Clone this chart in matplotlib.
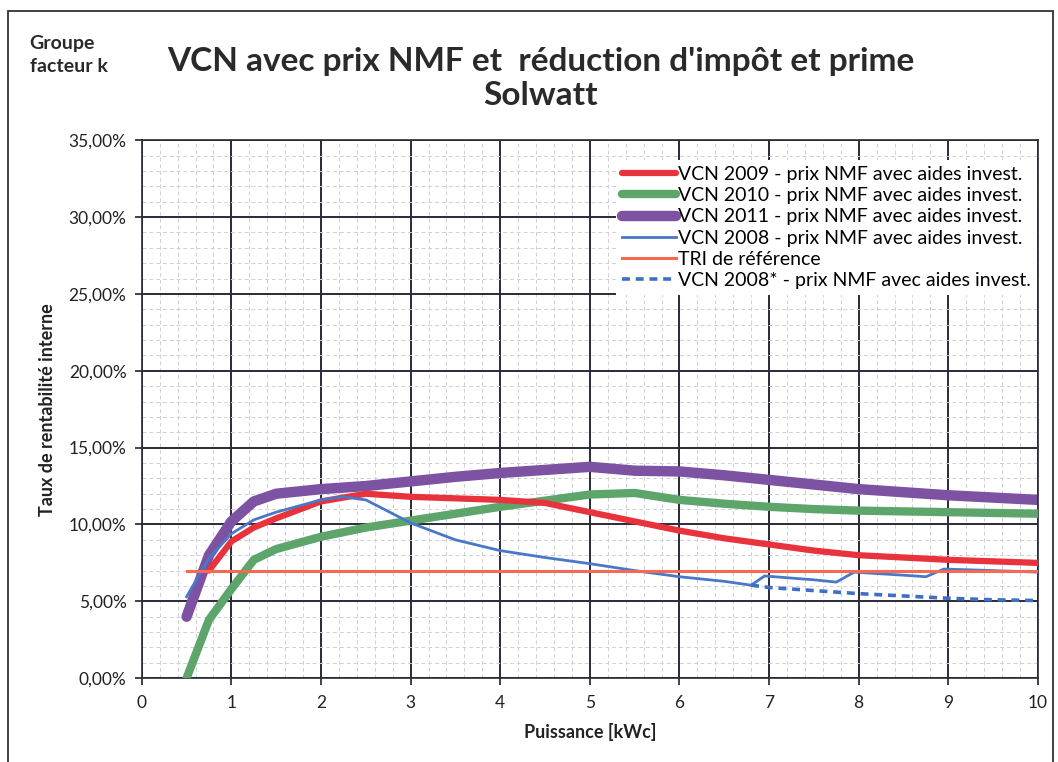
import matplotlib.pyplot as plt
import matplotlib.patches as patches
from matplotlib.ticker import FuncFormatter, MultipleLocator

plt.rcParams['font.family'] = ['Lato', 'DejaVu Sans']

# puissance (kWc) commune aux séries principales
x_main = [0.5, 0.75, 1, 1.25, 1.5, 2, 2.5, 3, 3.5, 4, 4.5, 5, 5.5, 6, 6.5, 7, 7.5, 8, 8.5, 9, 9.5, 10]

vcn_2011 = [4.0, 8.0, 10.2, 11.5, 12.0, 12.3, 12.5, 12.8, 13.1, 13.35, 13.55, 13.75, 13.5, 13.45, 13.2,
            12.9, 12.6, 12.3, 12.1, 11.9, 11.75, 11.6]
vcn_2010 = [0.0, 3.8, 5.8, 7.7, 8.4, 9.2, 9.8, 10.25, 10.7, 11.15, 11.55, 11.95, 12.05, 11.6, 11.35,
            11.15, 11.0, 10.9, 10.85, 10.8, 10.75, 10.7]

x_2009 = x_main[1:]
vcn_2009 = [7.0, 8.9, 9.8, 10.4, 11.5, 12.0, 11.8, 11.7, 11.6, 11.4, 10.8, 10.2, 9.6, 9.1, 8.7,
            8.3, 8.0, 7.85, 7.7, 7.6, 7.5]

x_2008 = [0.5, 0.75, 1, 1.25, 1.5, 2, 2.25, 2.5, 3, 3.5, 4, 4.5, 5, 5.5, 6, 6.5, 6.8, 6.95,
          7.5, 7.75, 7.95, 8.5, 8.75, 8.95, 9.5, 10]
vcn_2008 = [5.3, 7.8, 9.4, 10.3, 10.8, 11.6, 11.8, 11.6, 10.1, 9.0, 8.3, 7.85, 7.45, 7.0, 6.6, 6.3,
            6.05, 6.65, 6.4, 6.25, 6.9, 6.7, 6.6, 7.1, 7.0, 6.9]

x_2008s = [6.8, 7, 7.5, 8, 8.5, 9, 9.5, 10]
vcn_2008s = [6.05, 5.9, 5.7, 5.5, 5.35, 5.2, 5.1, 5.05]

x_ref = [0.5, 10]
tri_ref = [7.0, 7.0]

fig = plt.figure(figsize=(10.58, 7.62), dpi=100)
ax = fig.add_axes([0.134, 0.110, 0.847, 0.706])

# grille: majeure foncée, mineure pointillée claire
ax.xaxis.set_major_locator(MultipleLocator(1))
ax.xaxis.set_minor_locator(MultipleLocator(0.2))
ax.yaxis.set_major_locator(MultipleLocator(5))
ax.yaxis.set_minor_locator(MultipleLocator(1))
ax.grid(which='major', color='#2a2a3a', linewidth=1.4)
ax.grid(which='minor', color='#cfcfd4', linewidth=0.7, linestyle=(0, (4, 3)))
ax.set_axisbelow(True)

ax.plot(x_2009, vcn_2009, color='#e8323c', lw=4.5, solid_capstyle='round',
        label='VCN 2009 - prix NMF avec aides invest.', zorder=4)
ax.plot(x_main, vcn_2010, color='#5ea56c', lw=6, solid_capstyle='round',
        label='VCN 2010 - prix NMF avec aides invest.', zorder=3)
ax.plot(x_main, vcn_2011, color='#7d52a3', lw=7.5, solid_capstyle='round',
        label='VCN 2011 - prix NMF avec aides invest.', zorder=2)
ax.plot(x_2008, vcn_2008, color='#4a78c8', lw=2,
        label='VCN 2008 - prix NMF avec aides invest.', zorder=5)
ax.plot(x_ref, tri_ref, color='#f46a55', lw=2.2,
        label='TRI de référence', zorder=6)
ax.plot(x_2008s, vcn_2008s, color='#3f6fc4', lw=2.6, linestyle=(0, (2.2, 1.6)),
        label='VCN 2008* - prix NMF avec aides invest.', zorder=5)

ax.set_xlim(0, 10)
ax.set_ylim(0, 35)
ax.yaxis.set_major_formatter(FuncFormatter(lambda v, p: f'{v:.2f}%'.replace('.', ',')))

for s in ax.spines.values():
    s.set_color('#2a2a3a')
    s.set_linewidth(1.2)
ax.tick_params(which='major', labelsize=12.5, colors='#222222', length=5, width=1.2, pad=6)
ax.tick_params(axis='x', which='major', pad=7)
ax.tick_params(which='minor', length=0)

ax.set_xlabel('Puissance [kWc]', fontsize=13, fontweight='bold', labelpad=9, color='#222222')
ax.set_ylabel('Taux de rentabilité interne', fontsize=13, fontweight='bold', labelpad=9, color='#222222')

leg = ax.legend(loc='upper right', bbox_to_anchor=(1.0, 0.965), fontsize=14,
                frameon=True, framealpha=1, edgecolor='none', fancybox=False,
                handlelength=2.8, handletextpad=0.1, labelspacing=0.22,
                borderpad=0.3, borderaxespad=0.05)
leg.get_frame().set_facecolor('white')
leg.set_zorder(10)

fig.text(0.511, 0.897, "VCN avec prix NMF et  réduction d'impôt et prime\nSolwatt",
         ha='center', va='center', fontsize=24, fontweight='bold', color='#2a2a2a',
         linespacing=1.17)
fig.text(0.028, 0.928, 'Groupe\nfacteur k', ha='left', va='center', fontsize=14,
         fontweight='bold', color='#2a2a2a', linespacing=1.45)

fig.patches.append(patches.Rectangle((0.008, -0.01), 0.987, 0.995, transform=fig.transFigure,
                                     fill=False, edgecolor='#333333', linewidth=1.3))

fig.savefig('out.png', dpi=100, facecolor='white')
